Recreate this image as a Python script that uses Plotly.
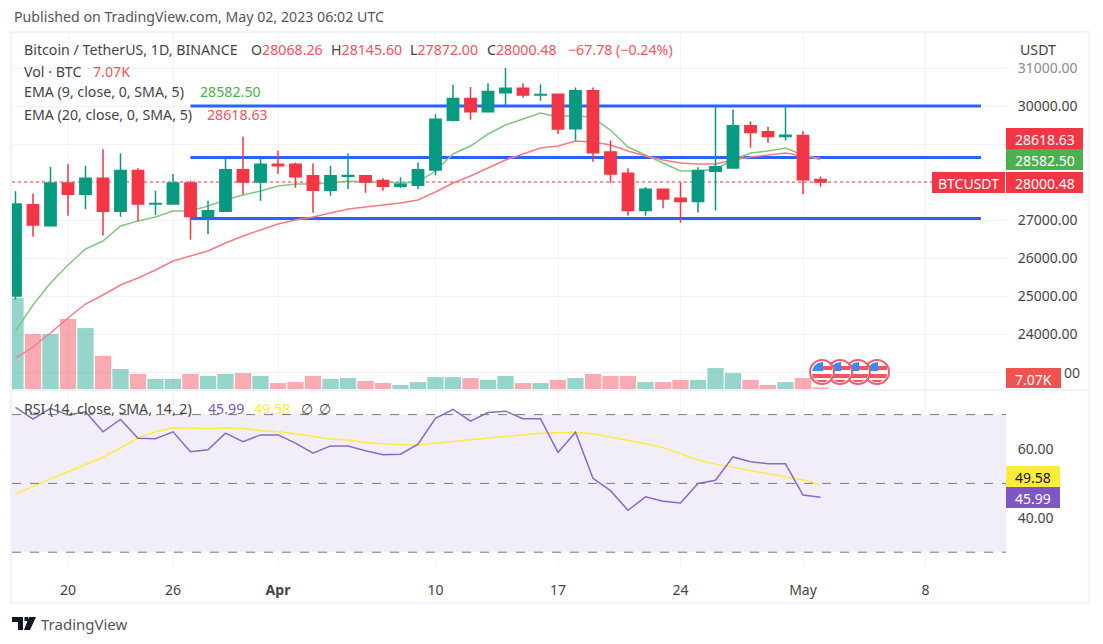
import plotly.graph_objects as go
import pandas as pd

W = 1103
H = 644
FONT = "Noto Sans"

# Daily data
days = pd.date_range("2023-03-17", "2023-05-02", freq="D")
opens = [25000, 27400, 26850, 27975, 27680, 28100, 27230, 28300, 27420, 27420, 27975, 27090, 27230, 28325, 28000,
         28465, 28465, 28165, 27780, 28150, 28165, 28040, 27890, 27915, 28316, 29623, 30200, 29850, 30350, 30465,
         30290, 30310, 29400, 30400, 28790, 28230, 27250, 27810, 27570, 27485, 28285, 28370, 29480, 29320, 29195,
         29225, 28068.26]
highs = [27760, 27700, 28400, 28465, 28430, 28860, 28755, 28360, 27770, 28210, 28040, 27510, 28650, 29190, 28650,
         28820, 28515, 28490, 28430, 28755, 28170, 28100, 28125, 28515, 29780, 30555, 30500, 30600, 31000, 30600,
         30570, 30319, 30490, 30490, 29090, 28360, 27870, 27810, 27990, 28390, 30030, 29910, 29600, 29450, 30010,
         29340, 28145.60]
lows = [24900, 26560, 26820, 27115, 27280, 26590, 27085, 26975, 27130, 27420, 26480, 26625, 27230, 27680, 27510,
        28210, 27850, 27190, 27640, 27815, 27720, 27770, 27840, 27815, 28180, 29590, 29640, 29850, 30010, 30220,
        30140, 29260, 29090, 28530, 27980, 27115, 27115, 27310, 26930, 27200, 27250, 28370, 28900, 29035, 29090,
        27680, 27872.00]
closes = [27420, 26870, 27975, 27680, 28100, 27230, 28300, 27420, 27435, 27975, 27090, 27245, 28325, 28000, 28465,
          28430, 28140, 27780, 28165, 28170, 28000, 27890, 27940, 28325, 29650, 30200, 29850, 30380, 30465, 30290,
          30300, 29395, 30400, 28770, 28210, 27250, 27810, 27550, 27485, 28300, 28400, 29480, 29300, 29195, 29230,
          28060, 28000.48]
ema9 = [24079, 24763, 25342, 25816, 26237, 26447, 26842, 26974, 27079, 27237, 27237, 27368, 27526, 27658, 27763,
        27895, 27947, 27947, 27974, 28026, 28000, 28000, 27974, 28000, 28289, 28737, 28947, 29263, 29500, 29658,
        29816, 29711, 29763, 29684, 29368, 28921, 28711, 28500, 28289, 28289, 28342, 28579, 28763, 28816, 28895,
        28711, 28582.50]
ema20 = [23368, 23658, 24026, 24421, 24789, 25026, 25289, 25474, 25684, 25921, 26053, 26184, 26395, 26579, 26737,
         26895, 27000, 27079, 27184, 27289, 27342, 27395, 27447, 27526, 27737, 27974, 28158, 28368, 28579, 28737,
         28895, 28947, 29079, 29053, 28974, 28816, 28684, 28579, 28500, 28474, 28474, 28579, 28658, 28711, 28763,
         28684, 28618.63]
volume = [382, 231, 231, 294, 256, 139, 84, 63, 42, 42, 63, 55, 63, 67, 55, 25, 29, 55, 42, 46, 34, 25, 17, 29, 50,
          50, 46, 38, 55, 25, 25, 38, 46, 63, 55, 55, 29, 29, 38, 38, 88, 67, 38, 17, 29, 46, 7.07]
rsi = [72.1, 68.7, 71.8, 69.9, 70.8, 65.0, 68.6, 63.1, 63.0, 65.0, 59.2, 59.8, 64.6, 62.1, 64.1, 64.1, 61.7, 58.8,
       60.9, 60.9, 59.5, 58.3, 58.5, 61.4, 68.9, 71.5, 68.1, 70.6, 71.0, 68.8, 68.8, 59.0, 64.9, 51.5, 47.9, 42.2,
       46.1, 44.8, 44.3, 50.0, 50.9, 57.7, 56.3, 55.7, 55.7, 46.6, 45.99]
rsi_ma = [46.9, 49.2, 51.3, 53.4, 55.5, 57.6, 60.3, 63.2, 65.0, 66.2, 66.1, 65.9, 66.1, 66.0, 65.3, 65.0, 64.4, 63.6,
          62.9, 62.6, 61.9, 61.5, 61.2, 61.1, 61.7, 62.2, 62.8, 63.2, 63.7, 64.1, 64.6, 64.7, 64.9, 64.4, 63.5, 62.4,
          61.5, 60.4, 58.5, 56.8, 55.6, 54.7, 53.7, 52.7, 51.9, 51.0, 49.58]

# Hand drawn levels: (start, end, price)
levels = [("2023-03-27", "2023-05-11 04:00", 30000), ("2023-03-27", "2023-05-11 04:00", 28645),
          ("2023-03-27", "2023-05-11 04:00", 27040)]
last_price = 28000.48
price_ticks = [23000, 24000, 25000, 26000, 27000, 28000, 29000, 30000, 31000]
price_labels = ["", "24000.00", "25000.00", "26000.00", "27000.00", "", "", "30000.00",
                '<span style="color:#8a8a8a">31000.00</span>']
rsi_ticks = [40, 60]
rsi_labels = ["40.00", "60.00"]
rsi_levels = [70, 50, 30]
date_ticks = ["2023-03-20", "2023-03-26", "2023-04-01", "2023-04-10", "2023-04-17", "2023-04-24", "2023-05-01", "2023-05-08"]
date_labels = ["20", "26", "<b>Apr</b>", "10", "17", "24", "May", "8"]
x_start = "2023-03-16 19:12"
x_end = "2023-05-12 14:24"
price_range = [22553, 31921]
rsi_range = [25.7, 76.86]
volume_range = [0, 1495]

UP = "#089981"
DOWN = "#f23645"
GRID = "#f0f3fa"
TEXT = "#444444"
RED_TEXT = "#f7525f"
GREEN_TEXT = "#4caf50"
PURPLE = "#7e57c2"
YELLOW = "#ffeb3b"


def fx(px):
    return px / W


def fy(px):
    return 1 - px / H


def rect_shape(x0, y0, x1, y1, color, **kw):
    return dict(type="rect", xref="paper", yref="paper", x0=fx(x0), x1=fx(x1), y0=fy(y0), y1=fy(y1),
                fillcolor=color, line_width=0, **kw)


def poly_shape(points, color):
    path = "M" + " L".join(f"{fx(a):.5f},{fy(b):.5f}" for a, b in points) + " Z"
    return dict(type="path", xref="paper", yref="paper", path=path, fillcolor=color, line_width=0)


def label(x, y, text, size=14.2, color=TEXT, anchor="left", **kw):
    return dict(xref="paper", yref="paper", x=fx(x), y=fy(y), text=text, showarrow=False, xanchor=anchor,
                yanchor="middle", align="left", font=dict(family=FONT, size=size, color=color), **kw)


def span(text, color):
    return f'<span style="color:{color}">{text}</span>'


fig = go.Figure()

vol_colors = ["rgba(8,153,129,0.42)" if c >= o else "rgba(242,54,69,0.42)" for o, c in zip(opens, closes)]
fig.add_trace(go.Bar(x=days, y=volume, marker_color=vol_colors, marker_line_width=0, xaxis="x", yaxis="y"))

for start, end, level in levels:
    fig.add_trace(go.Scatter(x=[start, end], y=[level, level], mode="lines", xaxis="x", yaxis="y2",
                             line=dict(color="#2962ff", width=3)))
fig.add_trace(go.Scatter(x=[x_start, x_end], y=[last_price, last_price], mode="lines", xaxis="x", yaxis="y2",
                         line=dict(color=DOWN, width=1, dash="dot")))
fig.add_trace(go.Scatter(x=days, y=ema9, mode="lines", xaxis="x", yaxis="y2", line=dict(color="#81c784", width=1.5)))
fig.add_trace(go.Scatter(x=days, y=ema20, mode="lines", xaxis="x", yaxis="y2", line=dict(color="#f77c80", width=1.5)))

fig.add_trace(go.Candlestick(x=days, open=opens, high=highs, low=lows, close=closes, xaxis="x", yaxis="y3",
                             whiskerwidth=0,
                             increasing=dict(line=dict(color=UP, width=1.5), fillcolor=UP),
                             decreasing=dict(line=dict(color=DOWN, width=1.5), fillcolor=DOWN)))

fig.add_trace(go.Scatter(x=days, y=rsi_ma, mode="lines", xaxis="x2", yaxis="y4", line=dict(color=YELLOW, width=1.5)))
fig.add_trace(go.Scatter(x=days, y=rsi, mode="lines", xaxis="x2", yaxis="y4", line=dict(color="#8a68c9", width=1.5)))

shapes = []
# chart frame and pane separator
shapes.append(dict(type="rect", xref="paper", yref="paper", x0=fx(11), x1=fx(1089), y0=fy(32), y1=fy(603),
                   line=dict(color=GRID, width=2.5), layer="below"))
shapes.append(rect_shape(12, 389, 1088, 391, GRID))
# RSI band and dashed levels
shapes.append(dict(type="rect", xref="paper", yref="y4", x0=fx(12), x1=fx(1006), y0=rsi_levels[2], y1=rsi_levels[0],
                   fillcolor="rgba(126,87,194,0.1)", line_width=0, layer="below"))
for level in rsi_levels:
    shapes.append(dict(type="line", xref="paper", yref="y4", x0=fx(12), x1=fx(1006), y0=level, y1=level,
                       line=dict(color="#787b86", width=1, dash="dash")))

# Event flags, first one on top
for cx in [877, 858, 840, 822]:
    cy = 372
    shapes.append(dict(type="circle", xref="paper", yref="paper", x0=fx(cx - 12), x1=fx(cx + 12), y0=fy(cy - 12),
                       y1=fy(cy + 12), fillcolor="white", line=dict(color="#f55a66", width=2)))
    shapes.append(poly_shape([(cx, cy - 2), (cx + 10, cy - 2), (cx + 10, cy - 6), (cx, cy - 6)], RED_TEXT))
    shapes.append(poly_shape([(cx - 10, cy + 2), (cx + 10, cy + 2), (cx + 9, cy + 6), (cx - 9, cy + 6)], RED_TEXT))
    shapes.append(poly_shape([(cx - 6, cy + 8), (cx + 6, cy + 8), (cx + 3, cy + 10), (cx - 3, cy + 10)], RED_TEXT))
    shapes.append(poly_shape([(cx - 10, cy - 1), (cx + 1, cy - 1), (cx + 1, cy - 10), (cx - 4, cy - 9), (cx - 8, cy - 6)],
                             "#3d8bf0"))

# Value tags on the price scale
shapes.append(rect_shape(1006, 128, 1083, 149, DOWN))
shapes.append(rect_shape(1006, 149, 1083, 170, GREEN_TEXT))
shapes.append(rect_shape(1006, 172, 1083, 193, DOWN))
shapes.append(rect_shape(932, 172, 1005, 193, DOWN))
shapes.append(rect_shape(1006, 368, 1061, 388, "#ef5350"))
shapes.append(rect_shape(1006, 466, 1060, 487, YELLOW))
shapes.append(rect_shape(1006, 487, 1060, 508, PURPLE))

# TradingView logo
shapes.append(poly_shape([(12, 617), (23, 617), (23, 630), (18, 630), (18, 622), (12, 622)], "#131722"))
shapes.append(poly_shape([(24.5, 617), (28, 617), (28, 621), (24.5, 621)], "#131722"))
shapes.append(poly_shape([(29, 617), (36, 617), (30, 630), (24, 630)], "#131722"))

annotations = [
    label(12, 16, "Published on TradingView.com, May 02, 2023 06:02 UTC", color="#555555"),
    label(22, 50, "Bitcoin / TetherUS, 1D, BINANCE"),
    label(249, 50, "O" + span("28068.26", RED_TEXT)),
    label(329, 50, "H" + span("28145.60", RED_TEXT)),
    label(408, 50, "L" + span("27872.00", RED_TEXT)),
    label(485, 50, "C" + span("28000.48", RED_TEXT)),
    label(566, 50, "−67.78 (−0.24%)", color=RED_TEXT),
    label(22, 71, "Vol · BTC"),
    label(91, 71, "7.07K", color=RED_TEXT),
    label(22, 92, "EMA (9, close, 0, SMA, 5)"),
    label(198, 92, "28582.50", color=GREEN_TEXT),
    label(22, 114, "EMA (20, close, 0, SMA, 5)"),
    label(205, 114, "28618.63", color=RED_TEXT),
    label(22, 408, "RSI (14, close, SMA, 14, 2)"),
    label(206, 408, "45.99", color=PURPLE),
    label(252, 408, "49.58", color=YELLOW),
    label(299, 408, "∅"),
    label(317, 408, "∅"),
    label(1018, 49, "USDT"),
    label(1044.5, 139, "28618.63", size=14, color="white", anchor="center"),
    label(1044.5, 160, "28582.50", size=14, color="white", anchor="center"),
    label(1044.5, 183, "28000.48", size=14, color="white", anchor="center"),
    label(968.5, 183, "BTCUSDT", size=14, color="white", anchor="center"),
    label(1033, 379, "7.07K", size=14, color="white", anchor="center"),
    label(1062, 373, "00", size=14),
    label(1033, 477, "49.58", size=14, color="#131722", anchor="center"),
    label(1033, 498, "45.99", size=14, color="white", anchor="center"),
    label(39, 624, "TradingView", size=15, color="#555555"),
]

tick_font = dict(family=FONT, size=14, color=TEXT)
fig.update_layout(
    width=W, height=H, autosize=False, margin=dict(l=0, r=0, t=0, b=0),
    paper_bgcolor="white", plot_bgcolor="white", showlegend=False, boxgap=0.08, bargap=0.07,
    shapes=shapes, annotations=annotations,
    xaxis=dict(domain=[fx(12), fx(1006)], range=[x_start, x_end], anchor="y", tickvals=date_ticks,
               showticklabels=False, showgrid=True, gridcolor=GRID, gridwidth=1, zeroline=False, rangeslider=dict(visible=False),
               ticks=""),
    xaxis2=dict(domain=[fx(12), fx(1006)], matches="x", anchor="y4", tickvals=date_ticks, ticktext=date_labels,
                showgrid=True, gridcolor=GRID, gridwidth=1, zeroline=False, tickfont=tick_font, ticks="outside", ticklen=10,
                tickcolor="rgba(0,0,0,0)"),
    yaxis=dict(domain=[fy(389), fy(33)], range=volume_range, visible=False),
    yaxis2=dict(domain=[fy(389), fy(33)], range=price_range, overlaying="y", side="right", anchor="x",
                tickvals=price_ticks, ticktext=price_labels, showgrid=True, gridcolor=GRID, zeroline=False, tickfont=tick_font,
                ticks="outside", ticklen=8, tickcolor="rgba(0,0,0,0)"),
    yaxis3=dict(domain=[fy(389), fy(33)], range=price_range, overlaying="y", visible=False),
    yaxis4=dict(domain=[fy(567), fy(391)], range=rsi_range, side="right", anchor="x2", tickvals=rsi_ticks,
                ticktext=rsi_labels, showgrid=True, gridcolor=GRID, zeroline=False, tickfont=tick_font, ticks="outside",
                ticklen=8, tickcolor="rgba(0,0,0,0)"),
)

fig.write_html("out.html", config={"displayModeBar": False}, post_script="document.body.style.margin='0';")
